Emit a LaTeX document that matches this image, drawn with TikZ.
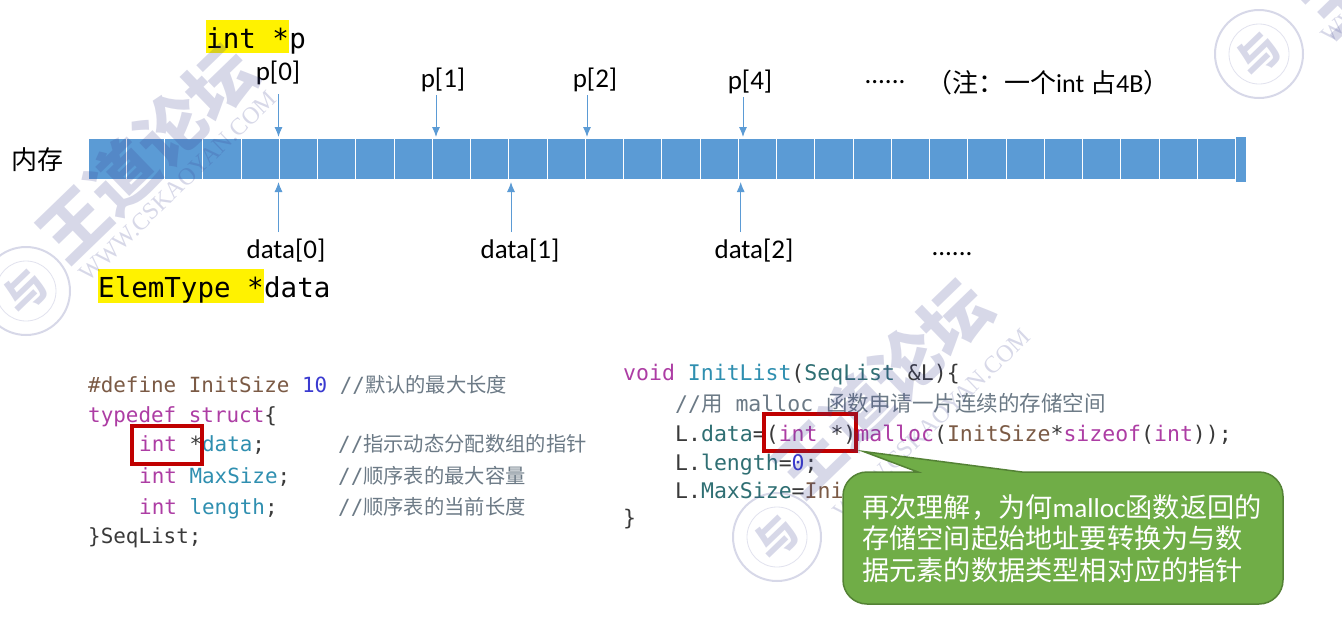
\documentclass[tikz,border=0pt]{standalone}
\usepackage{fontspec}
\setmainfont{Carlito}
\setmonofont{DejaVu Sans Mono}
\newfontfamily\cjk{Noto Sans CJK SC}
\newfontfamily\wwwfont{Liberation Serif}
\usepackage{tikz}
\usetikzlibrary{arrows.meta}
\tikzset{>={Latex[length=10pt,width=8pt]}}
\definecolor{cellblue}{HTML}{5B9BD5}
\definecolor{wmark}{HTML}{3A3F8F}
\definecolor{boxred}{HTML}{C00000}
\definecolor{calloutgreen}{HTML}{70AD47}
\definecolor{calloutline}{HTML}{548235}
\definecolor{kwcol}{HTML}{AD3DA4}
\definecolor{idcol}{HTML}{2F8FB0}
\definecolor{typecol}{HTML}{2F6F73}
\definecolor{macrocol}{HTML}{7B5A45}
\definecolor{numcol}{HTML}{3A3AD0}
\definecolor{notecol}{HTML}{6C7A86}
\definecolor{plaincol}{HTML}{3A3A3A}
\newcommand{\zh}[1]{{\cjk #1}}
\newcommand{\zhs}[1]{{\cjk\fontsize{20.3}{24}\selectfont #1}}
\newcommand{\kw}[1]{\textcolor{kwcol}{#1}}
\newcommand{\idn}[1]{\textcolor{idcol}{#1}}
\newcommand{\mac}[1]{\textcolor{macrocol}{#1}}
\newcommand{\rem}[1]{\textcolor{notecol}{#1}}
\tikzset{
  cell/.style={draw=white,line width=0.8pt,fill=cellblue,anchor=north west,inner sep=0pt,
    minimum width=38.25pt,minimum height=41.5pt},
  lab/.style={anchor=base,inner sep=0pt,font=\fontsize{27}{30}\selectfont},
  hilite/.style={anchor=base west,inner sep=0pt,fill=yellow,text height=28pt,
    font=\ttfamily\fontsize{27.5}{30}\selectfont},
  big/.style={anchor=base west,inner sep=0pt,font=\ttfamily\fontsize{27.5}{30}\selectfont},
  arrow/.style={->,cellblue,line width=1pt},
  codeL/.style={anchor=base west,inner sep=0pt,text=plaincol,font=\ttfamily\fontsize{20.9}{24}\selectfont},
  codeR/.style={anchor=base west,inner sep=0pt,text=plaincol,font=\ttfamily\fontsize{21.5}{24}\selectfont},
  redbox/.style={draw=boxred,line width=4pt},
  wm/.style={text=wmark,opacity=0.2,rotate=44,inner sep=0pt},
  wmtitle/.style={wm,font=\cjk\bfseries\fontsize{68}{70}\selectfont},
  wmurl/.style={wm,font=\wwwfont\fontsize{24}{26}\selectfont},
}
\begin{document}
\begin{tikzpicture}[x=1pt,y=-1pt]
\useasboundingbox (0,0) rectangle (1342,627);
\fill[white] (0,0) rectangle (1342,627);

% memory bar
\node[anchor=center,inner sep=0pt,font=\cjk\fontsize{26}{28}\selectfont] (mem) at (38,160) {内存};
\foreach \i in {0,...,29}
  \node[cell] (c\i) at ({87.6+38.25*\i},137.5) {};
\fill[cellblue] (1235.7,137) rectangle (1246,182);

% labels above
\node[hilite,text depth=5pt] (intp) at (206,48) {int *};
\node[big] (intpp) at (intp.base east) {p};
\node[lab] (p0) at (278,80) {p[0]};
\node[lab] (p1) at (443,87) {p[1]};
\node[lab] (p2) at (595,87) {p[2]};
\node[lab] (p4) at (750,89) {p[4]};
\node[lab] (pdots) at (885,83) {......};
\node[lab,anchor=base west,font=\fontsize{26}{30}\selectfont] (note) at (926,92) {\zh{（注：一个}int \zh{占}4B\zh{）}};

% labels below
\node[lab] (d0) at (286,258) {data[0]};
\node[lab] (d1) at (520,258) {data[1]};
\node[lab] (d2) at (754,258) {data[2]};
\node[lab] (ddots) at (952,255) {......};
\node[hilite,text depth=6pt] (elem) at (98,297) {ElemType *};
\node[big] (elemd) at (elem.base east) {data};

% arrows
\foreach \n/\x/\y in {p0/278.5/94,p1/436/95,p2/587/95,p4/743/97}{
  \coordinate (\n s) at (\x,\y);
  \coordinate (\n e) at (\x,137);
  \draw[arrow] (\n s) -- (\n e);
}
\foreach \n/\x in {d0/278.5,d1/511,d2/740.7}{
  \coordinate (\n s) at (\x,232);
  \coordinate (\n e) at (\x,182);
  \draw[arrow] (\n s) -- (\n e);
}

% struct code
\node[codeL] (l1) at (88,392) {\mac{\#define InitSize} \textcolor{numcol}{10} \rem{//\zhs{默认的最大长度}}};
\node[codeL] (l2) at (88,422) {\kw{typedef struct}\{};
\node[codeL] (l3) at (139,451) {\kw{int} *\idn{data};};
\node[codeL] (l3c) at (338,451) {\rem{//\zhs{指示动态分配数组的指针}}};
\node[codeL] (l4) at (139,483) {\kw{int} \idn{MaxSize};};
\node[codeL] (l4c) at (338,483) {\rem{//\zhs{顺序表的最大容量}}};
\node[codeL] (l5) at (139,514) {\kw{int} \idn{length};};
\node[codeL] (l5c) at (338,514) {\rem{//\zhs{顺序表的当前长度}}};
\node[codeL] (l6) at (88,543) {\}SeqList;};

% init code
\node[codeR] (r1) at (623,380) {\kw{void} \idn{InitList}(\textcolor{typecol}{SeqList} \&L)\{};
\node[codeR] (r2) at (675,411) {\rem{//\zh{用} malloc \zh{函数申请一片连续的存储空间}}};
\node[codeR] (r3) at (675,441) {L.\textcolor{typecol}{data}=(\kw{int} *)\kw{malloc}(\mac{InitSize}*\kw{sizeof}(\kw{int}));};
\node[codeR] (r4) at (675,470) {L.\textcolor{typecol}{length}=\textcolor{numcol}{0};};
\node[codeR] (r5) at (675,498) {L.\textcolor{typecol}{MaxSize}=\mac{Ini}};
\node[codeR] (r6) at (623,525) {\}};

% red boxes
\draw[redbox] (132,426) rectangle (201.5,463.5);
\draw[redbox] (764,413.5) rectangle (855.5,450.5);

% watermark
\node[wmtitle] (wm1) at (147,153) {王道论坛};
\node[wmurl] (url1) at (178,186) {WWW.CSKAOYAN.COM};
\node[wmtitle] (wm2) at (882,388) {王道论坛};
\node[wmurl] (url2) at (932,424) {WWW.CSKAOYAN.COM};
\node[wmtitle] (wm3) at (1412,-72) {王道论坛};
\node[wmurl] (url3) at (1420,-52) {WWW.CSKAOYAN.COM};
\foreach \n/\x/\y in {a/26/291,b/1259/54,c/777/537}{
  \draw[wmark,opacity=0.2,line width=2pt] (\x,\y) circle (44);
  \draw[wmark,opacity=0.15,line width=0.8pt] (\x,\y) circle (30);
  \node[wm,font=\cjk\bfseries\fontsize{42}{44}\selectfont] (seal\n) at (\x,\y) {与};
}

% callout
\coordinate (tip) at (863.5,451.5);
\fill[calloutgreen,draw=calloutline,line width=1.5pt] (tip) [rounded corners=0pt] -- (1022,472)
  [rounded corners=24pt] -- (1283,472) -- (1283,604) -- (843,604) -- (843,472)
  [rounded corners=0pt] -- (918,472) -- cycle;
\node[anchor=north west,inner sep=0pt,text=white,align=left,font=\fontsize{27.2}{31.5}\selectfont] (calltext) at (862,494)
  {\zh{再次理解，为何}malloc\zh{函数返回的}\\ \zh{存储空间起始地址要转换为与数}\\ \zh{据元素的数据类型相对应的指针}};
\end{tikzpicture}
\end{document}
